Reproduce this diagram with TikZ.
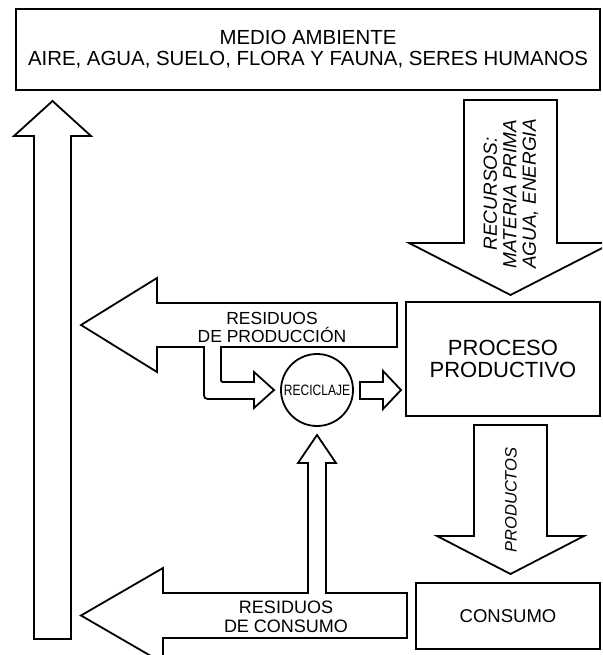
\documentclass[tikz,border=0pt]{standalone}
\usepackage{fontspec}
\setmainfont{Liberation Sans}
\newfontfamily\estrecha[FakeStretch=0.8]{Liberation Sans}
\newcommand{\tam}[2]{\fontsize{#1}{#2}\selectfont}

\begin{document}
\begin{tikzpicture}[x=1pt,y=-1pt,
		caja/.style={draw,line width=1.8pt,inner sep=0pt,align=center},
		flecha/.style={draw,line width=1.8pt,line join=miter,fill=white},
		rotulo/.style={inner sep=0pt,align=center}]
				\useasboundingbox (0,0) rectangle (602,655);
				\clip (0,0) rectangle (602,655);
				
				\node[caja,minimum width=584pt,minimum height=81pt,font=\tam{20.4}{21}] (medio) at (308,49.5) {MEDIO AMBIENTE\\AIRE, AGUA, SUELO, FLORA Y FAUNA, SERES HUMANOS};
				\node[caja,minimum width=194pt,minimum height=114pt,font=\tam{22}{22.5}] (proceso) at (503,359) {PROCESO\\PRODUCTIVO};
				\node[caja,minimum width=184pt,minimum height=66pt,font=\tam{18.5}{20}] (consumo) at (508,616) {CONSUMO};
				\node[caja,circle,minimum size=72pt,font=\estrecha\tam{15}{16}] (reciclaje) at (317,390) {RECICLAJE};
				
				\draw[flecha] (34,639) -- (34,136) -- (14,136) -- (52.5,101) -- (91,136) -- (71,136) -- (71,639) -- cycle;
				
				\draw[flecha] (464,100) -- (557,100) -- (557,243) -- (612,243) -- (510.5,295) -- (409,243) -- (464,243) -- cycle;
				\node[rotulo,rotate=90,font=\itshape\tam{19}{19.5}] (recursos) at (511,194) {RECURSOS:\\MATERIA PRIMA\\AGUA, ENERGIA};
				
				\draw[flecha] (397,303) -- (157,303) -- (157,278) -- (81,325) -- (157,372) -- (157,347) -- (204,347)
					-- (204,391) .. controls (204,399) .. (212,399) -- (254,399) -- (254,408) -- (274,390) -- (254,372) -- (254,382)
					-- (225,382) .. controls (221,382) .. (221,378) -- (221,347) -- (397,347) -- cycle;
				\node[rotulo,font=\tam{17.5}{18}] (resprod) at (272,327) {RESIDUOS\\DE PRODUCCIÓN};
				
				\draw[flecha] (360,382) -- (383,382) -- (383,371) -- (401,390) -- (383,409) -- (383,399) -- (360,399) -- cycle;
				
				\draw[flecha] (474,425) -- (547,425) -- (547,536) -- (584,536) -- (510.5,574) -- (437,536) -- (474,536) -- cycle;
				\node[rotulo,rotate=90,font=\itshape\tam{16.5}{17}] (productos) at (511,500) {PRODUCTOS};
				
				\draw[flecha] (407,593) -- (326,593) -- (326,463) -- (336,463) -- (317,435) -- (298,463) -- (308,463) -- (308,593)
					-- (163,593) -- (163,568) -- (81,615.5) -- (163,663) -- (163,638) -- (407,638) -- cycle;
				\node[rotulo,font=\tam{18}{18.5}] (rescons) at (286,617) {RESIDUOS\\DE CONSUMO};
			\end{tikzpicture}
\end{document}
